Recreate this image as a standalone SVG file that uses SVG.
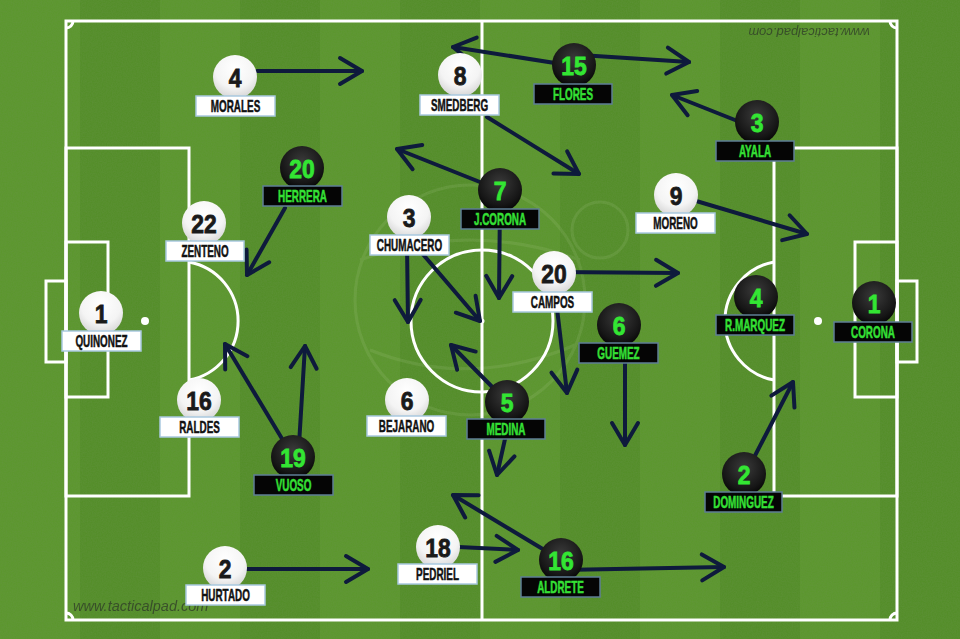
<svg xmlns="http://www.w3.org/2000/svg" width="960" height="639" viewBox="0 0 960 639">
<defs>
  <pattern id="stripes" x="0" y="0" width="160" height="639" patternUnits="userSpaceOnUse">
    <rect x="0" y="0" width="80" height="639" fill="#5c972e"/>
    <rect x="80" y="0" width="80" height="639" fill="#548e29"/>
  </pattern>
  <filter id="grain" x="0" y="0" width="100%" height="100%">
    <feTurbulence type="fractalNoise" baseFrequency="0.8" numOctaves="2" seed="4" result="n"/>
    <feColorMatrix type="matrix" values="0 0 0 0 0.15  0 0 0 0 0.3  0 0 0 0 0.08  0 0 0 0.9 -0.2"/>
  </filter>
  <radialGradient id="gWhite" cx="0.5" cy="0.3" r="0.75">
    <stop offset="0" stop-color="#ffffff"/>
    <stop offset="0.6" stop-color="#f4f4f4"/>
    <stop offset="1" stop-color="#cfcfcf"/>
  </radialGradient>
  <radialGradient id="gDark" cx="0.5" cy="0.35" r="0.7">
    <stop offset="0" stop-color="#3a3a3a"/>
    <stop offset="0.7" stop-color="#161616"/>
    <stop offset="1" stop-color="#000000"/>
  </radialGradient>
  <marker id="head" markerUnits="userSpaceOnUse" viewBox="-28 -18 32 36" refX="0" refY="0" markerWidth="32" markerHeight="36" orient="auto">
    <path d="M-22,-13 L0,0 L-22,13" fill="none" stroke="#0e1a3c" stroke-width="4" stroke-linecap="round" stroke-linejoin="round"/>
  </marker>
  <style>
    .line{fill:none;stroke:#ffffff;stroke-width:3}
    .arr{fill:none;stroke:#0e1a3c;stroke-width:4;stroke-linecap:round;marker-end:url(#head)}
    .wc{fill:url(#gWhite)}
    .dc{fill:url(#gDark)}
    .wb{fill:#ffffff;stroke:#a9c9df;stroke-width:1.5}
    .db{fill:#050505;stroke:#5f7f95;stroke-width:1.5}
    .num{font-family:"Liberation Sans",Arial,sans-serif;font-weight:bold;font-size:26px;text-anchor:middle;stroke-width:0.8}
    .wn{fill:#1a1a1a;stroke:#1a1a1a}
    .dn{fill:#33e633;stroke:#33e633}
    .lbl{font-family:"Liberation Sans",Arial,sans-serif;font-weight:bold;font-size:16.5px;text-anchor:middle;stroke-width:0.5}
    .wl{fill:#111111;stroke:#111111}
    .dl{fill:#35e035;stroke:#35e035}
    .wm{font-family:"Liberation Sans",Arial,sans-serif;font-style:italic;fill:#2e3a28;opacity:0.75}
  </style>
</defs>

<!-- grass -->
<rect x="0" y="0" width="960" height="639" fill="url(#stripes)"/>
<rect x="0" y="0" width="960" height="639" filter="url(#grain)" opacity="0.5"/>
<!-- faint ball watermark -->
<g opacity="0.09" fill="none" stroke="#e8f5d0" stroke-width="3">
  <circle cx="470" cy="300" r="115"/>
  <path d="M360,260 Q470,220 580,260"/>
  <path d="M370,350 Q470,390 575,345"/>
  <circle cx="600" cy="230" r="28"/>
</g>

<!-- pitch markings -->
<g id="pitch">
  <rect class="line" x="66" y="21" width="831" height="599"/>
  <line class="line" x1="482" y1="21" x2="482" y2="620"/>
  <circle class="line" cx="482" cy="321" r="71"/>
  <circle cx="482" cy="321" r="2.5" fill="#fff"/>
  <rect class="line" x="66" y="148" width="123" height="348"/>
  <rect class="line" x="66" y="242" width="42" height="155"/>
  <rect class="line" x="46" y="281" width="20" height="81"/>
  <circle cx="145" cy="321" r="4" fill="#fff"/>
  <path class="line" d="M189,262 A60,60 0 0 1 189,380"/>
  <rect class="line" x="774" y="148" width="123" height="348"/>
  <rect class="line" x="855" y="242" width="42" height="155"/>
  <rect class="line" x="897" y="281" width="20" height="81"/>
  <circle cx="818" cy="321" r="4" fill="#fff"/>
  <path class="line" d="M774,262 A60,60 0 0 0 774,380"/>
  <path class="line" stroke-width="2" d="M66,28 A7,7 0 0 0 73,21 M890,21 A7,7 0 0 0 897,28 M66,613 A7,7 0 0 1 73,620 M890,620 A7,7 0 0 1 897,613"/>
</g>

<text class="wm" x="73" y="611" font-size="14.5">www.tacticalpad.com</text>
<text class="wm" font-size="13" text-anchor="middle" transform="translate(809,28) rotate(180)">www.tacticalpad.com</text>

<!-- connectors -->
<g id="connectors">
  <line class="arr" x1="257" y1="71" x2="362" y2="71"/>
  <line class="arr" x1="285" y1="208" x2="247" y2="275"/>
  <line class="arr" x1="500" y1="190" x2="397" y2="149"/>
  <line class="arr" x1="487" y1="117" x2="579" y2="174"/>
  <line class="arr" x1="574" y1="66" x2="453" y2="47"/>
  <line class="arr" x1="580" y1="55" x2="689" y2="62"/>
  <line class="arr" x1="745" y1="124" x2="672" y2="95"/>
  <line class="arr" x1="676" y1="195" x2="807" y2="234"/>
  <line class="arr" x1="554" y1="272" x2="678" y2="273"/>
  <line class="arr" x1="500" y1="200" x2="499" y2="298"/>
  <line class="arr" x1="407" y1="245" x2="408" y2="322"/>
  <line class="arr" x1="415" y1="245" x2="480" y2="321"/>
  <line class="arr" x1="507" y1="402" x2="451" y2="345"/>
  <line class="arr" x1="556" y1="300" x2="567" y2="393"/>
  <line class="arr" x1="625" y1="350" x2="625" y2="445"/>
  <line class="arr" x1="507" y1="430" x2="497" y2="475"/>
  <line class="arr" x1="561" y1="560" x2="453" y2="495"/>
  <line class="arr" x1="438" y1="546" x2="518" y2="550"/>
  <line class="arr" x1="561" y1="570" x2="724" y2="567"/>
  <line class="arr" x1="225" y1="569" x2="368" y2="569"/>
  <line class="arr" x1="293" y1="457" x2="225" y2="344"/>
  <line class="arr" x1="299" y1="445" x2="305" y2="346"/>
  <line class="arr" x1="745" y1="475" x2="793" y2="382"/>
</g>

<!-- white team -->
<g id="p-morales"><circle class="wc" cx="235" cy="77" r="22"/><rect class="wb" x="196" y="96" width="79" height="20"/><text class="num wn" transform="translate(235,87) scale(0.88,1)">4</text><text class="lbl wl" transform="translate(235.5,112) scale(0.6,1)">MORALES</text></g>
<g id="p-smedberg"><circle class="wc" cx="460" cy="75" r="22"/><rect class="wb" x="420" y="95" width="79" height="20"/><text class="num wn" transform="translate(460,85) scale(0.88,1)">8</text><text class="lbl wl" transform="translate(459.5,111) scale(0.6,1)">SMEDBERG</text></g>
<g id="p-zenteno"><circle class="wc" cx="204" cy="223" r="22"/><rect class="wb" x="166" y="241" width="78" height="20"/><text class="num wn" transform="translate(204,233) scale(0.88,1)">22</text><text class="lbl wl" transform="translate(205,257) scale(0.6,1)">ZENTENO</text></g>
<g id="p-chumacero"><circle class="wc" cx="409" cy="217" r="22"/><rect class="wb" x="370" y="235" width="79" height="20"/><text class="num wn" transform="translate(409,227) scale(0.88,1)">3</text><text class="lbl wl" transform="translate(409.5,251) scale(0.6,1)">CHUMACERO</text></g>
<g id="p-quinonez"><circle class="wc" cx="101" cy="313" r="22"/><rect class="wb" x="62" y="331" width="79" height="20"/><text class="num wn" transform="translate(101,323) scale(0.88,1)">1</text><text class="lbl wl" transform="translate(101.5,347) scale(0.6,1)">QUINONEZ</text></g>
<g id="p-raldes"><circle class="wc" cx="199" cy="400" r="22"/><rect class="wb" x="160" y="417" width="79" height="20"/><text class="num wn" transform="translate(199,410) scale(0.88,1)">16</text><text class="lbl wl" transform="translate(199.5,433) scale(0.6,1)">RALDES</text></g>
<g id="p-bejarano"><circle class="wc" cx="407" cy="400" r="22"/><rect class="wb" x="367" y="416" width="79" height="20"/><text class="num wn" transform="translate(407,410) scale(0.88,1)">6</text><text class="lbl wl" transform="translate(406.5,432) scale(0.6,1)">BEJARANO</text></g>
<g id="p-campos"><circle class="wc" cx="554" cy="273" r="22"/><rect class="wb" x="513" y="292" width="79" height="20"/><text class="num wn" transform="translate(554,283) scale(0.88,1)">20</text><text class="lbl wl" transform="translate(552.5,308) scale(0.6,1)">CAMPOS</text></g>
<g id="p-moreno"><circle class="wc" cx="676" cy="195" r="22"/><rect class="wb" x="636" y="213" width="79" height="20"/><text class="num wn" transform="translate(676,205) scale(0.88,1)">9</text><text class="lbl wl" transform="translate(675.5,229) scale(0.6,1)">MORENO</text></g>
<g id="p-hurtado"><circle class="wc" cx="225" cy="568" r="22"/><rect class="wb" x="186" y="585" width="79" height="20"/><text class="num wn" transform="translate(225,578) scale(0.88,1)">2</text><text class="lbl wl" transform="translate(225.5,601) scale(0.6,1)">HURTADO</text></g>
<g id="p-pedriel"><circle class="wc" cx="438" cy="547" r="22"/><rect class="wb" x="398" y="564" width="79" height="20"/><text class="num wn" transform="translate(438,557) scale(0.88,1)">18</text><text class="lbl wl" transform="translate(437.5,580) scale(0.6,1)">PEDRIEL</text></g>

<!-- dark team -->
<g id="p-flores"><circle class="dc" cx="574" cy="65" r="22"/><rect class="db" x="534" y="84" width="78" height="20"/><text class="num dn" transform="translate(574,75) scale(0.88,1)">15</text><text class="lbl dl" transform="translate(573,100) scale(0.6,1)">FLORES</text></g>
<g id="p-ayala"><circle class="dc" cx="757" cy="122" r="22"/><rect class="db" x="716" y="141" width="78" height="20"/><text class="num dn" transform="translate(757,132) scale(0.88,1)">3</text><text class="lbl dl" transform="translate(755,157) scale(0.6,1)">AYALA</text></g>
<g id="p-herrera"><circle class="dc" cx="302" cy="168" r="22"/><rect class="db" x="263" y="186" width="79" height="20"/><text class="num dn" transform="translate(302,178) scale(0.88,1)">20</text><text class="lbl dl" transform="translate(302.5,202) scale(0.6,1)">HERRERA</text></g>
<g id="p-jcorona"><circle class="dc" cx="500" cy="190" r="22"/><rect class="db" x="461" y="209" width="78" height="20"/><text class="num dn" transform="translate(500,200) scale(0.88,1)">7</text><text class="lbl dl" transform="translate(500,225) scale(0.6,1)">J.CORONA</text></g>
<g id="p-guemez"><circle class="dc" cx="619" cy="325" r="22"/><rect class="db" x="579" y="343" width="79" height="20"/><text class="num dn" transform="translate(619,335) scale(0.88,1)">6</text><text class="lbl dl" transform="translate(618.5,359) scale(0.6,1)">GUEMEZ</text></g>
<g id="p-medina"><circle class="dc" cx="507" cy="402" r="22"/><rect class="db" x="467" y="419" width="78" height="20"/><text class="num dn" transform="translate(507,412) scale(0.88,1)">5</text><text class="lbl dl" transform="translate(506,435) scale(0.6,1)">MEDINA</text></g>
<g id="p-rmarquez"><circle class="dc" cx="756" cy="297" r="22"/><rect class="db" x="716" y="315" width="78" height="20"/><text class="num dn" transform="translate(756,307) scale(0.88,1)">4</text><text class="lbl dl" transform="translate(755,331) scale(0.6,1)">R.MARQUEZ</text></g>
<g id="p-corona"><circle class="dc" cx="874" cy="303" r="22"/><rect class="db" x="834" y="322" width="78" height="20"/><text class="num dn" transform="translate(874,313) scale(0.88,1)">1</text><text class="lbl dl" transform="translate(873,338) scale(0.6,1)">CORONA</text></g>
<g id="p-vuoso"><circle class="dc" cx="293" cy="457" r="22"/><rect class="db" x="254" y="475" width="79" height="20"/><text class="num dn" transform="translate(293,467) scale(0.88,1)">19</text><text class="lbl dl" transform="translate(293.5,491) scale(0.6,1)">VUOSO</text></g>
<g id="p-dominguez"><circle class="dc" cx="744" cy="474" r="22"/><rect class="db" x="705" y="492" width="77" height="20"/><text class="num dn" transform="translate(744,484) scale(0.88,1)">2</text><text class="lbl dl" transform="translate(743.5,508) scale(0.6,1)">DOMINGUEZ</text></g>
<g id="p-aldrete"><circle class="dc" cx="561" cy="560" r="22"/><rect class="db" x="521" y="577" width="79" height="20"/><text class="num dn" transform="translate(561,570) scale(0.88,1)">16</text><text class="lbl dl" transform="translate(560.5,593) scale(0.6,1)">ALDRETE</text></g>
</svg>
